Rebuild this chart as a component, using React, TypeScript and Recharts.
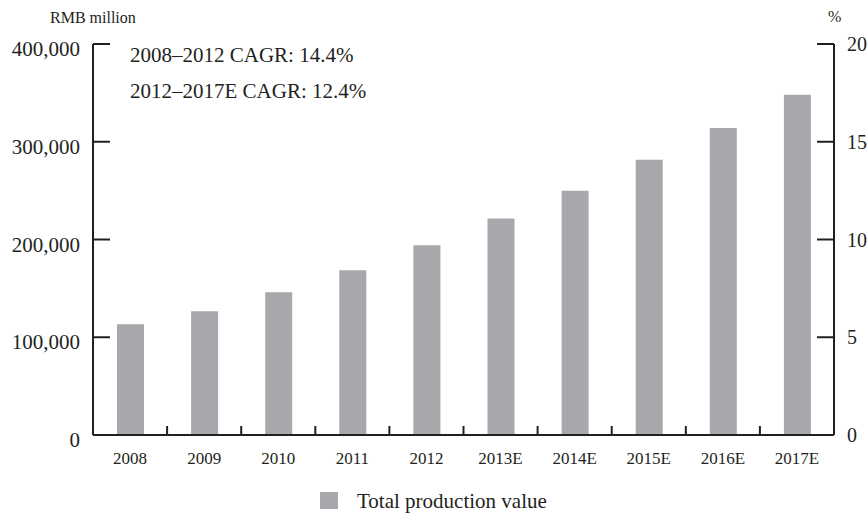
import React from "react";
import { ComposedChart, Bar, Line, XAxis, YAxis } from "recharts";

const years = ["2008", "2009", "2010", "2011", "2012", "2013E", "2014E", "2015E", "2016E", "2017E"];
const productionValue = [113300, 126500, 146000, 168500, 194000, 221500, 250000, 281500, 314000, 348000];
const valueTicks = [0, 100000, 200000, 300000, 400000];
const percentTicks = [0, 5, 10, 15, 20];
const cagrNotes = ["2008–2012 CAGR: 14.4%", "2012–2017E CAGR: 12.4%"];
const seriesName = "Total production value";

const data = years.map((year, i) => ({ year, value: productionValue[i] }));

const FONT = '"Liberation Serif", "Times New Roman", serif';
const INK = "#231f20";
const BAR_FILL = "#a7a8ab";
const TICK_LEN = 17;
const TICK_GAP = 13;
const X_MARGIN = 17;

// tickSize is 0 and tickMargin 0, so x sits on the axis line; ticks point into the plot
function LeftTick(props: any) {
  const { x, y, payload } = props;
  return (
    <g>
      <path d={`M${x},${y}H${x + TICK_LEN}`} stroke={INK} strokeWidth={2} />
      <text x={x - TICK_GAP} y={y} dy={12} textAnchor="end" fontFamily={FONT} fontSize={21} fill={INK}>
        {payload.value.toLocaleString("en-US")}
      </text>
    </g>
  );
}

function RightTick(props: any) {
  const { x, y, payload } = props;
  return (
    <g>
      <line x1={x - TICK_LEN} x2={x} y1={y} y2={y} stroke={INK} strokeWidth={2} />
      <text x={x + TICK_GAP} y={y} dy={7} textAnchor="start" fontFamily={FONT} fontSize={20} fill={INK}>
        {payload.value}
      </text>
    </g>
  );
}

function YearTick(props: any) {
  const { x, y, payload, index } = props;
  const axisY = y - X_MARGIN;
  const half = payload.offset ?? 37;
  return (
    <g>
      {index > 0 && (
        <line x1={x - half} x2={x - half} y1={axisY - 9} y2={axisY} stroke={INK} strokeWidth={2} />
      )}
      <text x={x} y={y} dy={12} textAnchor="middle" fontFamily={FONT} fontSize={17} fill={INK}>
        {payload.value}
      </text>
    </g>
  );
}

const axisStroke = { stroke: INK, strokeWidth: 2 };

export default function App() {
  return (
    <div style={{ position: "absolute", left: 0, top: 0, width: 867, height: 513, background: "#fff" }}>
      {/* units, growth notes and legend sit underneath the chart layer */}
      <svg
        width={867}
        height={513}
        style={{ position: "absolute", left: 0, top: 0, pointerEvents: "none" }}
      >
        <g fontFamily={FONT} fill={INK}>
          <text x={50} y={23} fontSize={16}>RMB million</text>
          <text x={828} y={22} fontSize={16}>%</text>
          {cagrNotes.map((note, i) => (
            <text key={note} x={130} y={62 + i * 36} fontSize={21}>
              {note}
            </text>
          ))}
          <rect x={320} y={492} width={18} height={17} fill={BAR_FILL} />
          <text x={357} y={508} fontSize={21}>{seriesName}</text>
        </g>
      </svg>

      <div style={{ position: "relative", width: 867, height: 513 }}>
        <ComposedChart
          width={867}
          height={513}
          data={data}
          margin={{ top: 44, right: 0, bottom: 38, left: 0 }}
          barSize={27}
        >
          <XAxis
            dataKey="year"
            height={40}
            tickSize={0}
            tickMargin={X_MARGIN}
            tick={<YearTick />}
            tickLine={false}
            axisLine={axisStroke}
            interval={0}
          />
          <YAxis
            yAxisId="left"
            width={93}
            domain={[0, 400000]}
            ticks={valueTicks}
            tickSize={0}
            tickMargin={0}
            tick={<LeftTick />}
            tickLine={false}
            axisLine={axisStroke}
            interval={0}
          />
          {/* mirrored copy of the value scale that only draws the inward tick marks */}
          <YAxis
            yAxisId="leftMarks"
            mirror
            width={0}
            domain={[0, 400000]}
            allowDataOverflow
            ticks={valueTicks}
            tickSize={TICK_LEN}
            tick={false}
            tickLine={axisStroke}
            axisLine={false}
          />
          <YAxis
            yAxisId="right"
            orientation="right"
            width={33}
            domain={[0, 20]}
            allowDataOverflow
            ticks={percentTicks}
            tickSize={0}
            tickMargin={0}
            tick={<RightTick />}
            tickLine={false}
            axisLine={axisStroke}
            interval={0}
          />
          <Bar yAxisId="left" dataKey="value" name={seriesName} fill={BAR_FILL} isAnimationActive={false} />
          {/* no series is plotted against these scales; empty lines keep them bound */}
          <Line yAxisId="right" dataKey="pct" stroke="none" dot={false} activeDot={false} legendType="none" isAnimationActive={false} />
          <Line yAxisId="leftMarks" dataKey="pct" stroke="none" dot={false} activeDot={false} legendType="none" isAnimationActive={false} />
        </ComposedChart>
      </div>
    </div>
  );
}
